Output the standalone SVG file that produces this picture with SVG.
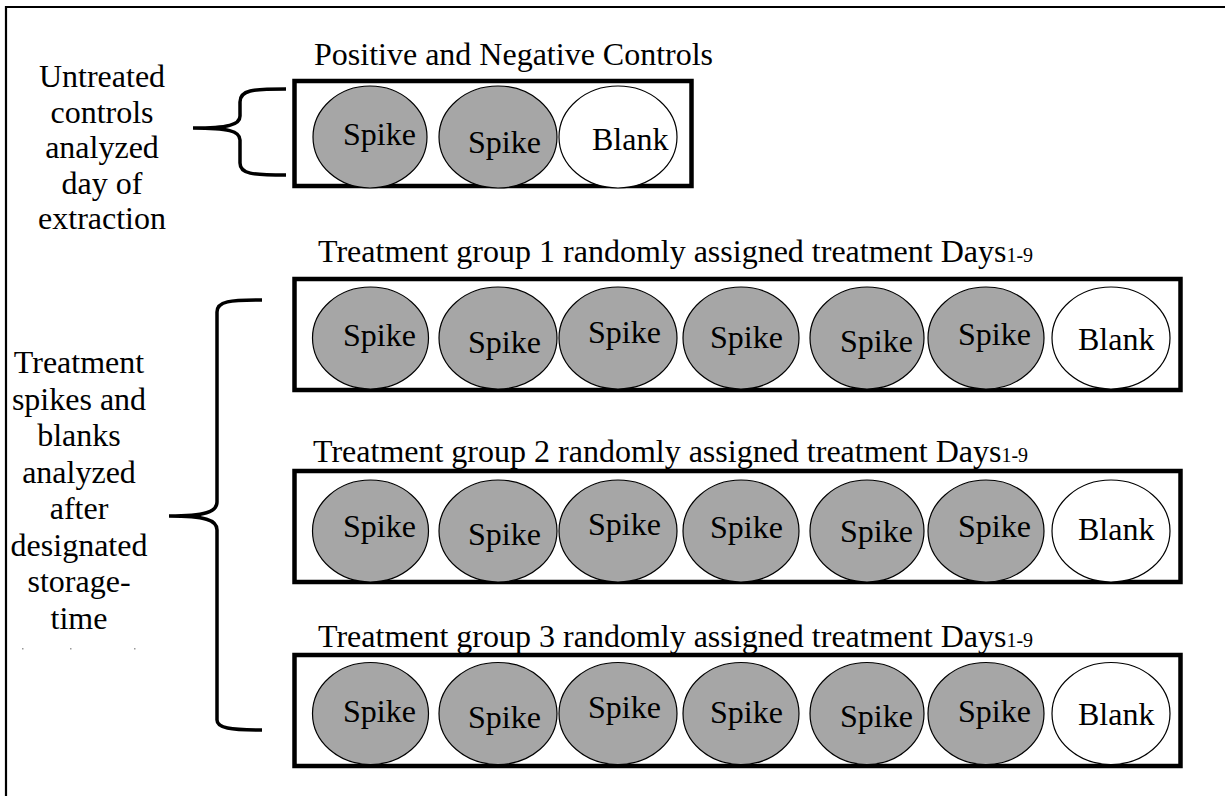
<svg xmlns="http://www.w3.org/2000/svg" width="1225" height="796" viewBox="0 0 1225 796">
<style>
text{font-family:"Liberation Serif","Times New Roman",serif;font-size:32px;fill:#000}
.lbl{text-anchor:middle}
.box{fill:none;stroke:#000;stroke-width:4.5}
.sp{fill:#a6a6a6;stroke:#000;stroke-width:1.2}
.bl{fill:#fff;stroke:#000;stroke-width:1.2}
.br{fill:none;stroke:#000;stroke-width:3.5}
.sub{font-size:20px}
</style>
<rect width="1225" height="796" fill="#fff"/>
<path d="M6,800 L6,7 L1230,7" fill="none" stroke="#000" stroke-width="2.2"/>
<g fill="#999"><rect x="22" y="648" width="1.5" height="1.5"/><rect x="70" y="648" width="1.5" height="1.5"/><rect x="134" y="648" width="1.5" height="1.5"/></g>

<g id="label-controls">
<text class="lbl" x="102" y="87">Untreated</text>
<text class="lbl" x="102" y="122.5">controls</text>
<text class="lbl" x="102" y="158">analyzed</text>
<text class="lbl" x="102" y="193.5">day of</text>
<text class="lbl" x="102" y="229">extraction</text>
</g>
<g id="label-treatment">
<text class="lbl" x="79" y="373">Treatment</text>
<text class="lbl" x="79" y="409.5">spikes and</text>
<text class="lbl" x="79" y="446">blanks</text>
<text class="lbl" x="79" y="482.5">analyzed</text>
<text class="lbl" x="79" y="519">after</text>
<text class="lbl" x="79" y="555.5">designated</text>
<text class="lbl" x="79" y="592">storage-</text>
<text class="lbl" x="79" y="628.5">time</text>
</g>

<g id="connectors">
<path class="br" d="M286,89 C252,89 240,90 240,102 L240,116 C240,125 228,128 193,128 C228,128 240,131 240,140 L240,163 C240,174 252,175 286,175"/>
<path class="br" d="M262,300 C230,300 217,301 217,312 L217,502 C217,512 205,516 169,516 C205,516 217,520 217,530 L217,720 C217,728 230,730 262,730"/>
</g>

<g id="controls">
<text x="314" y="65">Positive and Negative Controls</text>
<rect class="box" x="294.5" y="81" width="397" height="105"/>
<ellipse class="sp" cx="370" cy="137" rx="57" ry="51"/>
<ellipse class="sp" cx="498" cy="137" rx="59" ry="51"/>
<ellipse class="bl" cx="618" cy="137" rx="59" ry="51"/>
<text x="343" y="145">Spike</text>
<text x="468" y="153">Spike</text>
<text x="592" y="150">Blank</text>
</g>

<g id="group1">
<text x="318" y="262">Treatment group 1 randomly assigned treatment Days<tspan class="sub">1-9</tspan></text>
<rect class="box" x="294.5" y="279" width="886" height="111"/>
<ellipse class="sp" cx="370.5" cy="338" rx="58" ry="51"/>
<ellipse class="sp" cx="498" cy="338" rx="59" ry="51"/>
<ellipse class="sp" cx="618" cy="338" rx="59" ry="51"/>
<ellipse class="sp" cx="741" cy="338" rx="58" ry="51"/>
<ellipse class="sp" cx="867" cy="338" rx="57" ry="51"/>
<ellipse class="sp" cx="986" cy="338" rx="58" ry="51"/>
<ellipse class="bl" cx="1111" cy="338" rx="59" ry="51"/>
<text x="343" y="346">Spike</text>
<text x="468" y="353">Spike</text>
<text x="588" y="343">Spike</text>
<text x="710" y="348">Spike</text>
<text x="840" y="352">Spike</text>
<text x="958" y="345">Spike</text>
<text x="1078" y="350">Blank</text>
</g>

<g id="group2">
<text x="313" y="462">Treatment group 2 randomly assigned treatment Days<tspan class="sub">1-9</tspan></text>
<rect class="box" x="294.5" y="471" width="886" height="111"/>
<ellipse class="sp" cx="370.5" cy="531" rx="58" ry="51"/>
<ellipse class="sp" cx="498" cy="531" rx="59" ry="51"/>
<ellipse class="sp" cx="618" cy="531" rx="59" ry="51"/>
<ellipse class="sp" cx="741" cy="531" rx="58" ry="51"/>
<ellipse class="sp" cx="867" cy="531" rx="57" ry="51"/>
<ellipse class="sp" cx="986" cy="531" rx="58" ry="51"/>
<ellipse class="bl" cx="1111" cy="531" rx="59" ry="51"/>
<text x="343" y="537">Spike</text>
<text x="468" y="545">Spike</text>
<text x="588" y="535">Spike</text>
<text x="710" y="538">Spike</text>
<text x="840" y="542">Spike</text>
<text x="958" y="537">Spike</text>
<text x="1078" y="540">Blank</text>
</g>

<g id="group3">
<text x="318" y="647">Treatment group 3 randomly assigned treatment Days<tspan class="sub">1-9</tspan></text>
<rect class="box" x="294.5" y="655" width="886" height="111"/>
<ellipse class="sp" cx="370.5" cy="713.5" rx="58" ry="51"/>
<ellipse class="sp" cx="498" cy="713.5" rx="59" ry="51"/>
<ellipse class="sp" cx="618" cy="713.5" rx="59" ry="51"/>
<ellipse class="sp" cx="741" cy="713.5" rx="58" ry="51"/>
<ellipse class="sp" cx="867" cy="713.5" rx="57" ry="51"/>
<ellipse class="sp" cx="986" cy="713.5" rx="58" ry="51"/>
<ellipse class="bl" cx="1111" cy="713.5" rx="59" ry="51"/>
<text x="343" y="722">Spike</text>
<text x="468" y="728">Spike</text>
<text x="588" y="718">Spike</text>
<text x="710" y="723">Spike</text>
<text x="840" y="727">Spike</text>
<text x="958" y="722">Spike</text>
<text x="1078" y="725">Blank</text>
</g>
</svg>
